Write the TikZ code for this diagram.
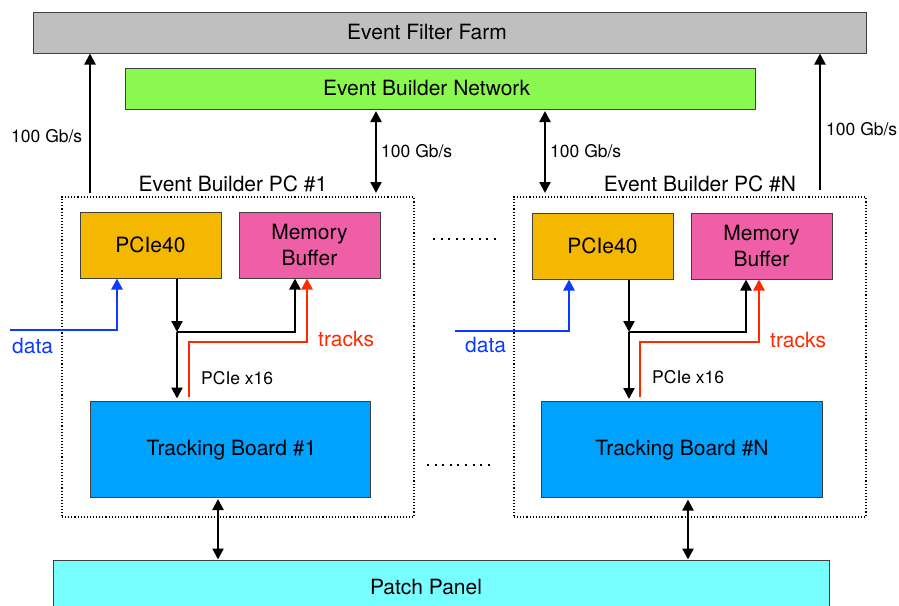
\documentclass[tikz,border=0pt]{standalone}
\usepackage{fontspec}
\setmainfont{TeX Gyre Heros}
\usetikzlibrary{arrows.meta,calc}
\definecolor{effc}{HTML}{BFBFBF}
\definecolor{ebnc}{HTML}{8AF850}
\definecolor{pciec}{HTML}{F5B800}
\definecolor{memc}{HTML}{EE5FA7}
\definecolor{tbc}{HTML}{00A2FF}
\definecolor{ppc}{HTML}{77FFFF}
\definecolor{datac}{HTML}{0A3BFF}
\definecolor{trkc}{HTML}{FF2A00}
\definecolor{edgec}{HTML}{404040}
\begin{document}
\begin{tikzpicture}[x=1pt,y=-1pt,
  box/.style={draw=edgec,line width=1pt,inner sep=0pt,text=black,font=\fontsize{21}{26}\selectfont,align=center},
  pcbox/.style={draw=black,dotted,line width=1.1pt,inner sep=0pt,minimum width=352pt,minimum height=320pt},
  lbl/.style={inner sep=0pt,text=black,font=\fontsize{17.5}{20}\selectfont},
  big/.style={inner sep=0pt,font=\fontsize{21}{24}\selectfont},
  tip/.tip={Triangle[length=11pt,width=11pt]},
  arr/.style={line width=2.3pt,-tip},
  darr/.style={line width=2.3pt,tip-tip},
  redarr/.style={line width=2.6pt,draw=trkc,-tip},
  bluearr/.style={line width=2.6pt,draw=datac,-tip},
  dots/.style={line width=2pt,dash pattern=on 2pt off 5.6pt}
]
\useasboundingbox (0,0) rectangle (899,605);
\clip (0,0) rectangle (899,605);
% top boxes
\node[box,fill=effc,minimum width=833pt,minimum height=41pt] (eff) at (449.5,32.5) {};
\node[big] (efft) at (427,32.5) {Event Filter Farm};
\node[box,fill=ebnc,minimum width=630pt,minimum height=41pt] (ebn) at (440,88.5) {};
\node[big] (ebnt) at (426.5,88.5) {Event Builder Network};
% PC boxes
\node[pcbox] (pc1) at (238,357) {};
\node[pcbox] (pcN) at (690,357) {};
\node[big,anchor=base] (pc1l) at (233,191) {Event Builder PC \#1};
\node[big,anchor=base] (pcNl) at (700,191) {Event Builder PC \#N};
% inner boxes
\node[box,fill=pciec,minimum width=141pt,minimum height=66pt] (pcie1) at (150.5,245) {PCIe40};
\node[box,fill=memc,minimum width=141pt,minimum height=66pt] (mem1) at (309.5,245) {Memory\\Buffer};
\node[box,fill=pciec,minimum width=141pt,minimum height=66pt] (pcieN) at (602.5,246) {PCIe40};
\node[box,fill=memc,minimum width=141pt,minimum height=66pt] (memN) at (761.5,246) {Memory\\Buffer};
\node[box,fill=tbc,minimum width=280pt,minimum height=96pt] (tb1) at (230,449) {};
\node[big] (tb1t) at (231.5,450) {Tracking Board \#1};
\node[box,fill=tbc,minimum width=281pt,minimum height=96pt] (tbN) at (681.5,449.5) {};
\node[big] (tbNt) at (682,450.5) {Tracking Board \#N};
\node[box,fill=ppc,minimum width=776pt,minimum height=56pt] (pp) at (441,588) {};
\node[big] (ppt) at (426,587) {Patch Panel};
% labels
\node[lbl,anchor=west] (r100a) at (11,136) {100 Gb/s};
\node[lbl,anchor=west] (r100b) at (826,129) {100 Gb/s};
\node[lbl,anchor=west] (r100c) at (381,151) {100 Gb/s};
\node[lbl,anchor=west] (r100d) at (550,151) {100 Gb/s};
\node[lbl,anchor=west] (x16a) at (201,378) {PCIe x16};
\node[lbl,anchor=west] (x16b) at (652,377) {PCIe x16};
\node[big,anchor=west,text=datac] (data1) at (12,346) {data};
\node[big,anchor=west,text=datac] (dataN) at (465,345) {data};
\node[big,anchor=west,text=trkc] (trk1) at (318,339) {tracks};
\node[big,anchor=west,text=trkc] (trkN) at (770,340) {tracks};
% coordinates
\coordinate (l1) at (90,193);
\coordinate (lN) at (820,190);
\coordinate (m1) at (376,193);
\coordinate (mN) at (545,193);
\coordinate (j1) at (177,332);
\coordinate (k1) at (295,332);
\coordinate (r1) at (189,342);
\coordinate (s1) at (307,342);
\coordinate (b0) at (10,330);
\coordinate (b1) at (117,330);
\coordinate (jN) at (629,332);
\coordinate (kN) at (746,332);
\coordinate (rN) at (640,342);
\coordinate (sN) at (759,342);
\coordinate (c0) at (455,331);
\coordinate (c1) at (569,331);
\coordinate (d1) at (218,530);
\coordinate (dN) at (688,530);
% top links
\draw[arr] (l1) -- (l1 |- eff.south);
\draw[arr] (lN) -- (lN |- eff.south);
\draw[darr,shorten <=1.5pt] (m1 |- ebn.south) -- (m1);
\draw[darr,shorten <=1.5pt] (mN |- ebn.south) -- (mN);
% PC #1 internals
\draw[bluearr] (b0) -- (b1) -- (b1 |- pcie1.south);
\draw[redarr] (r1 |- tb1.north) ++(0,-4) -- (r1) -- (s1) -- (s1 |- mem1.south);
\draw[arr] (j1 |- pcie1.south) -- (j1);
\draw[arr] (j1) -- ([yshift=2pt]j1 |- tb1.north);
\draw[arr] (j1) -- (k1) -- (k1 |- mem1.south);
% PC #N internals
\draw[bluearr] (c0) -- (c1) -- (c1 |- pcieN.south);
\draw[redarr] (rN |- tbN.north) ++(0,-4) -- (rN) -- (sN) -- (sN |- memN.south);
\draw[arr] (jN |- pcieN.south) -- (jN);
\draw[arr] (jN) -- ([yshift=2pt]jN |- tbN.north);
\draw[arr] (jN) -- (kN) -- (kN |- memN.south);
% bottom links
\draw[darr,shorten <=1.5pt] (d1 |- tb1.south) -- (d1 |- pp.north);
\draw[darr,shorten <=1.5pt] (dN |- tbN.south) -- (dN |- pp.north);
% ellipsis dots
\coordinate (e1) at (433,239);
\coordinate (e2) at (501,239);
\coordinate (e3) at (427,465);
\coordinate (e4) at (495,465);
\draw[dots] (e1) -- (e2);
\draw[dots] (e3) -- (e4);
\end{tikzpicture}
\end{document}
